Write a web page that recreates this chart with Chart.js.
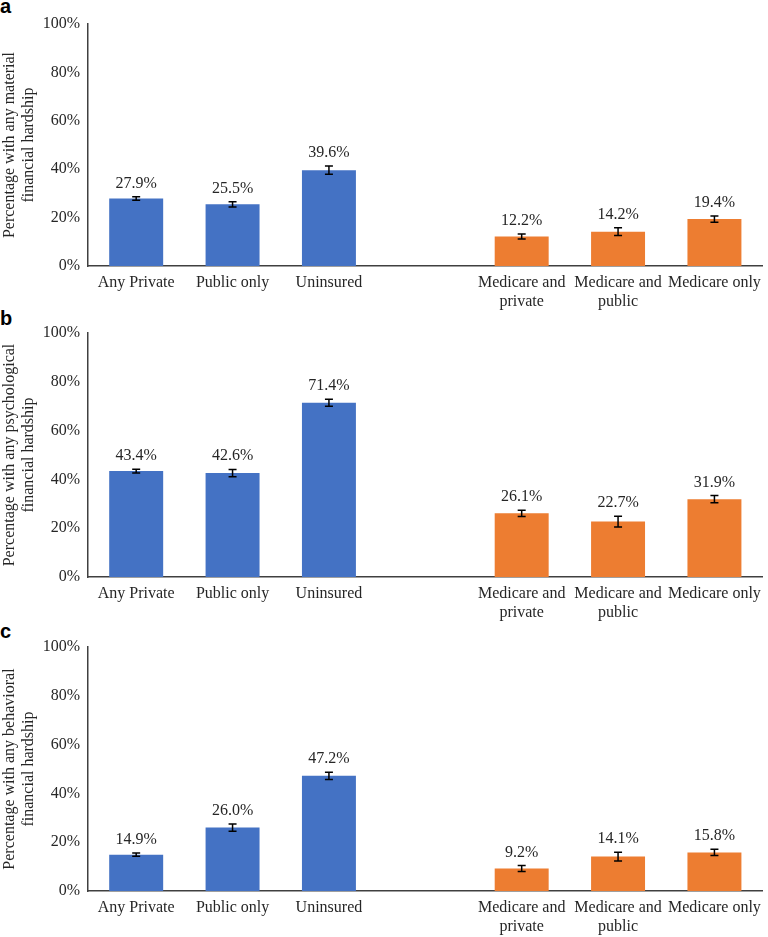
<!DOCTYPE html>
<html>
<head>
<meta charset="utf-8">
<script src="https://cdn.jsdelivr.net/npm/chart.js@4.4.1/dist/chart.umd.min.js"></script>
<style>
  body { margin: 0; background: #fff; }
  #wrap { position: relative; width: 768px; height: 937px; }
  canvas { position: absolute; left: 0; }
  .tag { position: absolute; left: 0; font: bold 20px "Liberation Sans", Arial, sans-serif; line-height: 20px; color: #000; }
</style>
</head>
<body>
<div id="wrap">
  <div class="tag" style="top:-4px">a</div>
  <div class="tag" style="top:308px">b</div>
  <div class="tag" style="top:621px">c</div>
  <canvas id="chartA" width="768" height="310" style="top:0px"></canvas>
  <canvas id="chartB" width="768" height="312" style="top:309px"></canvas>
  <canvas id="chartC" width="768" height="312" style="top:623px"></canvas>
</div>
<script>
// categories (blank slot separates the two insurance groups)
var categories = ['Any Private', 'Public only', 'Uninsured', '',
  ['Medicare and', 'private'], ['Medicare and', 'public'], 'Medicare only'];
var groups = ['under65', 'under65', 'under65', null, 'medicare', 'medicare', 'medicare'];

// a: material hardship
var materialPct = [27.9, 25.5, 39.6, null, 12.2, 14.2, 19.4];
var materialErr = [0.7, 1.1, 1.7, null, 1.0, 1.6, 1.3];
// b: psychological hardship
var psychPct = [43.4, 42.6, 71.4, null, 26.1, 22.7, 31.9];
var psychErr = [0.8, 1.5, 1.4, null, 1.3, 2.2, 1.5];
// c: behavioral hardship
var behavPct = [14.9, 26.0, 47.2, null, 9.2, 14.1, 15.8];
var behavErr = [0.7, 1.5, 1.5, null, 1.2, 1.8, 1.3];

var groupColors = { under65: '#4472C4', medicare: '#ED7D31' };
var FONT = '"Liberation Serif", "Times New Roman", serif';

// error bars + value labels drawn from the scale
var errorBars = {
    id: 'errorBars',
    afterDatasetsDraw: function(chart) {
        var ctx = chart.ctx;
        var yScale = chart.scales.y;
        var meta = chart.getDatasetMeta(0);
        var vals = chart.data.datasets[0].data;
        var errs = chart.data.datasets[0].errors;
        ctx.save();
        ctx.strokeStyle = '#000';
        ctx.lineWidth = 1.5;
        vals.forEach(function(v, i) {
            if (v == null) return;
            var x = meta.data[i].x;
            var top = yScale.getPixelForValue(v + errs[i]);
            var bot = yScale.getPixelForValue(v - errs[i]);
            ctx.beginPath();
            ctx.moveTo(x, top); ctx.lineTo(x, bot);
            ctx.moveTo(x - 4, top); ctx.lineTo(x + 4, top);
            ctx.moveTo(x - 4, bot); ctx.lineTo(x + 4, bot);
            ctx.stroke();
            ctx.fillStyle = '#262626';
            ctx.font = '16px ' + FONT;
            ctx.textAlign = 'center';
            ctx.textBaseline = 'alphabetic';
            ctx.fillText(v.toFixed(1) + '%', x, top - 9);
        });
        ctx.restore();
    }
};

function makeChart(id, values, errors, title) {
    var node = document.getElementById(id);
    return new Chart(node, {
        type: 'bar',
        data: {
            labels: categories,
            datasets: [{
                data: values,
                errors: errors,
                backgroundColor: groups.map(function(g) { return g ? groupColors[g] : 'rgba(0,0,0,0)'; }),
                borderWidth: 0,
                barPercentage: 0.56,
                categoryPercentage: 1.0
            }]
        },
        options: {
            responsive: false,
            animation: false,
            layout: { padding: { top: 24, right: 2, left: 0, bottom: 0 } },
            plugins: {
                legend: { display: false },
                tooltip: { enabled: false }
            },
            scales: {
                x: {
                    grid: { display: false, drawTicks: false },
                    border: { display: true, color: '#404040', width: 1.5 },
                    ticks: {
                        autoSkip: false, maxRotation: 0, padding: 7,
                        color: '#262626', font: { family: FONT, size: 16 }
                    },
                    afterFit: function(scale) { scale.height = 44; }
                },
                y: {
                    min: 0, max: 100,
                    grid: { display: false, drawTicks: false },
                    border: { display: true, color: '#404040', width: 1.5 },
                    ticks: {
                        stepSize: 20, padding: 8,
                        color: '#262626', font: { family: FONT, size: 16 },
                        callback: function(v) { return v + '%'; }
                    },
                    title: {
                        display: true, text: title,
                        color: '#262626', font: { family: FONT, size: 16 },
                        padding: 0
                    },
                    afterFit: function(scale) { scale.width = 88; }
                }
            }
        },
        plugins: [errorBars]
    });
}

makeChart('chartA', materialPct, materialErr, ['Percentage with any material', 'financial hardship']);
makeChart('chartB', psychPct, psychErr, ['Percentage with any psychological', 'financial hardship']);
makeChart('chartC', behavPct, behavErr, ['Percentage with any behavioral', 'financial hardship']);
</script>
</body>
</html>
